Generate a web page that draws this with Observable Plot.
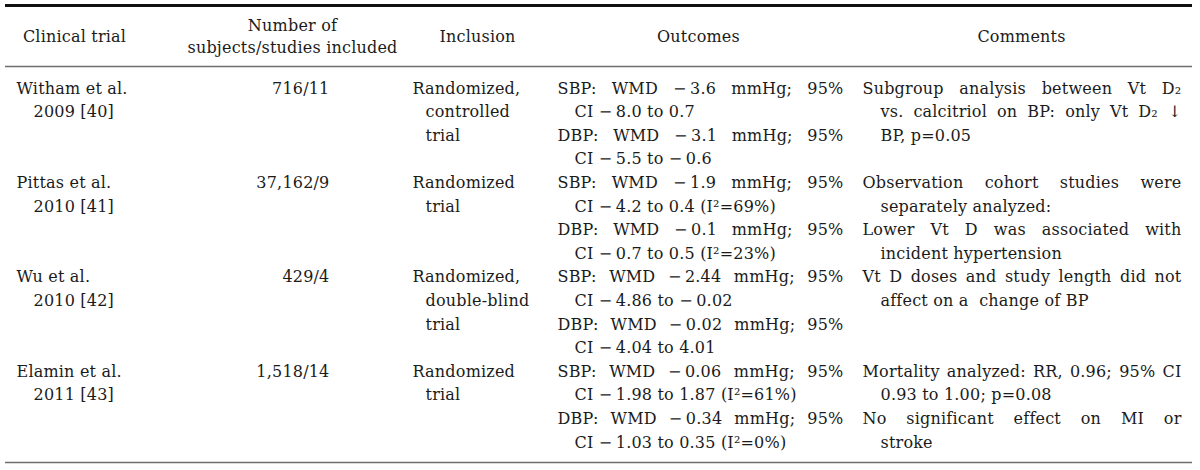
<!DOCTYPE html>
<html>
<head>
<meta charset="utf-8">
<script src="https://cdn.jsdelivr.net/npm/d3@7"></script>
<script src="https://cdn.jsdelivr.net/npm/@observablehq/plot@0.6"></script>
<style>
  html, body { margin: 0; padding: 0; background: #fff; }
  #chart svg { display: block; }
  #chart svg text { letter-spacing: 0.2px; }
</style>
</head>
<body>
<div id="chart"></div>
<script>
// ---------- table content ----------
const headers = [
  ["Clinical trial"],
  ["Number of", "subjects/studies included"],
  ["Inclusion"],
  ["Outcomes"],
  ["Comments"]
];

const trials = [
  ["Witham et al.", "2009 [40]"],
  ["Pittas et al.", "2010 [41]"],
  ["Wu et al.", "2010 [42]"],
  ["Elamin et al.", "2011 [43]"]
];

const subjects = ["716/11", "37,162/9", "429/4", "1,518/14"];

const inclusion = [
  ["Randomized,", "controlled", "trial"],
  ["Randomized", "trial"],
  ["Randomized,", "double-blind", "trial"],
  ["Randomized", "trial"]
];

const outcomes = [
  [["SBP: WMD −3.6 mmHg; 95%", "CI −8.0 to 0.7"],
   ["DBP: WMD −3.1 mmHg; 95%", "CI −5.5 to −0.6"]],
  [["SBP: WMD −1.9 mmHg; 95%", "CI −4.2 to 0.4 (I²=69%)"],
   ["DBP: WMD −0.1 mmHg; 95%", "CI −0.7 to 0.5 (I²=23%)"]],
  [["SBP: WMD −2.44 mmHg; 95%", "CI −4.86 to −0.02"],
   ["DBP: WMD −0.02 mmHg; 95%", "CI −4.04 to 4.01"]],
  [["SBP: WMD −0.06 mmHg; 95%", "CI −1.98 to 1.87 (I²=61%)"],
   ["DBP: WMD −0.34 mmHg; 95%", "CI −1.03 to 0.35 (I²=0%)"]]
];

const comments = [
  [["Subgroup analysis between Vt D₂", "vs. calcitriol on BP: only Vt D₂ ↓", "BP, p=0.05"]],
  [["Observation cohort studies were", "separately analyzed:"],
   ["Lower Vt D was associated with", "incident hypertension"]],
  [["Vt D doses and study length did not", "affect on a\u00a0 change of BP"]],
  [["Mortality analyzed: RR, 0.96; 95% CI", "0.93 to 1.00; p=0.08"],
   ["No significant effect on MI or", "stroke"]]
];

// ---------- layout (page geometry, not data) ----------
const layout = {
  lineStart: 88, lineStep: 23.6, linesPerRow: 4,
  topRule: -3.52, headRule: -0.93, bottomRule: 15.85,
  ruleX1: 5, ruleX2: 1192,
  headerOne: -2.17, headerTwo: [-2.64, -1.73],
  cols: [
    {x: 16,  indent: 17, header: 74,  anchor: "start"},
    {x: 329, indent: 0,  header: 292, anchor: "end"},
    {x: 412, indent: 13, header: 477, anchor: "start"},
    {x: 557, indent: 17, header: 698, anchor: "start", right: 843},
    {x: 862, indent: 18, header: 1021, anchor: "start", right: 1181}
  ]
};

// typographic minus: a thin gap between the sign and the number, as printed
const typeset = s => s.replace(/−(?=\d)/g, "−\u2009");

// ---------- build table cells ----------
const columns = [
  trials.map(t => [t]),
  subjects.map(s => [[s]]),
  inclusion.map(p => [p]),
  outcomes,
  comments
];

const cells = [];
columns.forEach((col, c) => col.forEach((paras, r) => {
  let k = 0;
  paras.forEach(lines => lines.forEach((text, i) => {
    const L = layout.cols[c];
    cells.push({
      c, text: typeset(text),
      line: r * layout.linesPerRow + k,
      pos: L.x + (i > 0 ? L.indent : 0),
      justify: L.right != null && i < lines.length - 1
    });
    k++;
  }));
}));

const headerCells = [];
headers.forEach((lines, c) => lines.forEach((text, i) => {
  headerCells.push({
    c, text,
    pos: layout.cols[c].header,
    line: lines.length === 1 ? layout.headerOne : layout.headerTwo[i]
  });
}));

const ink = "#1b1b1b";
const font = "DejaVu Serif";
const fs = 16;

const plot = Plot.plot({
  width: 1200,
  height: 470,
  margin: 0,
  x: {type: "linear", domain: [0, 1200], range: [0, 1200], axis: null},
  y: {type: "linear", domain: [0, 1], range: [layout.lineStart, layout.lineStart + layout.lineStep], axis: null},
  style: {fontFamily: font, fontSize: fs + "px", background: "#fff", color: ink},
  marks: [
    Plot.ruleY([layout.topRule], {x1: layout.ruleX1, x2: layout.ruleX2, stroke: "#111", strokeWidth: 3}),
    Plot.ruleY([layout.headRule, layout.bottomRule], {x1: layout.ruleX1, x2: layout.ruleX2, stroke: "#6e6e6e", strokeWidth: 1.6}),
    Plot.text(headerCells, {x: "pos", y: "line", text: "text", textAnchor: "middle", fill: ink, fontFamily: font, fontSize: fs}),
    Plot.text(cells.filter(d => layout.cols[d.c].anchor === "start"),
      {x: "pos", y: "line", text: "text", textAnchor: "start", fill: ink, fontFamily: font, fontSize: fs}),
    Plot.text(cells.filter(d => layout.cols[d.c].anchor === "end"),
      {x: "pos", y: "line", text: "text", textAnchor: "end", fill: ink, fontFamily: font, fontSize: fs})
  ]
});

document.getElementById("chart").appendChild(plot);

// justify non-final lines of each paragraph by widening word spacing
const targets = new Map(cells.filter(d => d.justify).map(d => [d.text, layout.cols[d.c].right - d.pos]));
plot.querySelectorAll("text").forEach(el => {
  const t = el.textContent;
  if (!targets.has(t)) return;
  const spaces = (t.match(/ /g) || []).length;
  if (!spaces) return;
  const w = el.getComputedTextLength();
  const extra = (targets.get(t) - w) / spaces;
  if (extra > 0) el.style.wordSpacing = extra + "px";
});
</script>
</body>
</html>
